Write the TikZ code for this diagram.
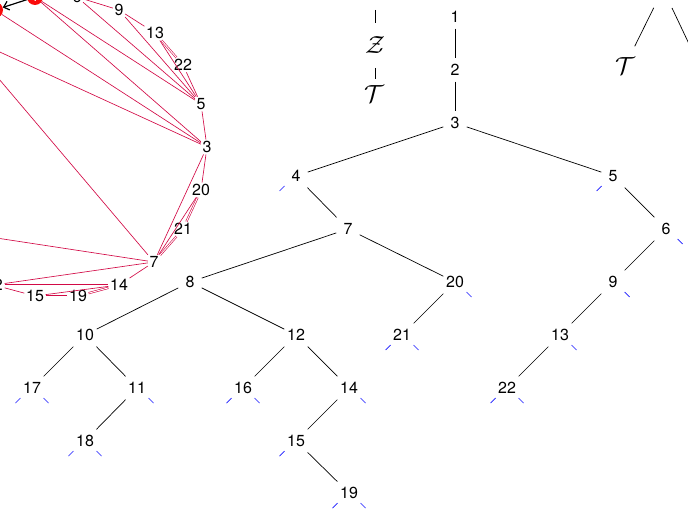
\RequirePackage{fix-cm}
\documentclass[tikz,border=0pt]{standalone}
\usepackage{fontspec}
\setmainfont{TeX Gyre Heros}
\usetikzlibrary{arrows.meta}
\definecolor{edgered}{RGB}{210,10,70}
\definecolor{stubblue}{RGB}{20,20,255}
\definecolor{dotred}{RGB}{250,10,10}
\newcommand\stubL[1]{\draw[stubline] (#1.center) ++(-11.5,10) -- ++(-5,5);}
\newcommand\stubR[1]{\draw[stubline] (#1.center) ++(11.5,10) -- ++(5,5);}
\newcommand\bigcal[1]{\scalebox{1.18}{$\mathcal{#1}$}}
\begin{document}
\begin{tikzpicture}[x=1pt,y=-1pt,
  tn/.style={rectangle, minimum width=23pt, minimum height=23pt, inner sep=0pt, font=\fontsize{16}{19}\selectfont},
  rn/.style={rectangle, inner sep=1.5pt, font=\fontsize{16}{19}\selectfont},
  cal/.style={inner sep=0pt, font=\fontsize{21}{25}\selectfont},
  tedge/.style={draw=black, line width=0.7pt},
  stubline/.style={draw=stubblue, line width=0.7pt},
  redge/.style={draw=edgered, line width=0.65pt},
  redge2/.style={draw=edgered, line width=0.6pt, double=white, double distance=0.9pt},
  reddot/.style={circle, fill=dotred, minimum size=16pt, inner sep=0pt, text=white, font=\fontsize{14}{16}\selectfont}
]
\useasboundingbox (0,0) rectangle (688,516);
\clip (0,0) rectangle (688,516);

% ---------------- tree ----------------
\node[tn] (t1) at (455,17) {1};
\node[tn] (t2) at (455,70) {2};
\node[tn] (t3) at (455,123) {3};
\node[tn] (t4) at (296,176) {4};
\node[tn] (t5) at (613,176) {5};
\node[tn] (t7) at (348,229) {7};
\node[tn] (t6) at (666,229) {6};
\node[tn] (t8) at (190,282) {8};
\node[tn] (t20) at (455,282) {20};
\node[tn] (t9) at (613,282) {9};
\node[tn] (t10) at (85,335) {10};
\node[tn] (t12) at (296,335) {12};
\node[tn] (t21) at (402,335) {21};
\node[tn] (t13) at (560,335) {13};
\node[tn] (t17) at (32,388) {17};
\node[tn] (t11) at (137,388) {11};
\node[tn] (t16) at (243,388) {16};
\node[tn] (t14) at (349,388) {14};
\node[tn] (t22) at (507,388) {22};
\node[tn] (t18) at (85,441) {18};
\node[tn] (t15) at (296,441) {15};
\node[tn] (t19) at (349,493) {19};

\foreach \a/\b in {t1/t2,t2/t3,t3/t4,t3/t5,t4/t7,t5/t6,t7/t8,t7/t20,t6/t9,
  t8/t10,t8/t12,t20/t21,t9/t13,t10/t17,t10/t11,t12/t16,t12/t14,t13/t22,
  t11/t18,t14/t15,t15/t19}
  \draw[tedge] (\a) -- (\b);

\stubL{t4} \stubL{t5} \stubR{t6} \stubR{t9} \stubR{t13}
\stubL{t22} \stubR{t22} \stubR{t20} \stubL{t21} \stubR{t21}
\stubL{t17} \stubR{t17} \stubR{t11} \stubL{t18} \stubR{t18}
\stubL{t16} \stubR{t16} \stubR{t14} \stubL{t15} \stubL{t19} \stubR{t19}

% ---------------- Z / T chain ----------------
\coordinate (ztop) at (375,-20);
\node[cal] (zZ) at (375,45) {\bigcal{Z}};
\node[cal] (zT) at (374,94) {\bigcal{T}};
\draw[tedge, shorten <=30pt, shorten >=22pt] (ztop) -- (zZ.center);
\draw[tedge, shorten <=23pt, shorten >=15pt] (zZ.center) -- (zZ.center |- zT.center);

% ---------------- top right T ----------------
\coordinate (tp) at (663,-11);
\coordinate (tr) at (699,65);
\node[cal] (T2) at (625,66) {\bigcal{T}};
\draw[tedge, shorten <=21pt, shorten >=22pt] (tp) -- (T2.center);
\draw[tedge, shorten <=21pt, shorten >=22pt] (tp) -- (tr);

% ---------------- circular graph ----------------
\node[rn] (c6) at (77,-3) {6};
\node[rn] (c9) at (119,10) {9};
\node[rn] (c13) at (155,33) {13};
\node[rn] (c22) at (183,65) {22};
\node[rn] (c5) at (201,104) {5};
\node[rn] (c3) at (207,147) {3};
\node[rn] (c20) at (201,190) {20};
\node[rn] (c21) at (183,229) {21};
\node[rn] (c7) at (154,262) {7};
\node[rn] (c14) at (119,285) {14};
\node[rn] (c19) at (78,296) {19};
\node[rn] (c15) at (35,296) {15};
\node[rn] (c12) at (-6,285) {12};
\node[reddot] (rA) at (35,-3) {1};
\node[reddot] (rB) at (-5,10) {};
\coordinate (s1) at (-60,24.6);
\coordinate (s2) at (-40,33);
\coordinate (s3) at (-60,229.4);

\draw[redge] (c6) -- (c9);
\draw[redge] (c9) -- (c13);
\draw[redge2] (c13) -- (c22);
\draw[redge] (c22) -- (c5);
\draw[redge] (c5) -- (c3);
\draw[redge] (c3) -- (c20);
\draw[redge2] (c20) -- (c21);
\draw[redge2] (c21) -- (c7);
\draw[redge] (c7) -- (c14);
\draw[redge2] (c14) -- (c19);
\draw[redge2, line width=0.8pt] (c19) -- (c15);
\draw[redge] (c15) -- (c12);
\draw[redge2] (c12) -- (c14);
\draw[redge] (c15) -- (c14);
\draw[redge] (c12) -- (c7);
\draw[redge] (c6) -- (c5);
\draw[redge] (c9) -- (c5);
\draw[redge] (c13) -- (c5);
\draw[redge] (rA) -- (c5);
\draw[redge] (rA) -- (c3);
\draw[redge] (rB) -- (c3);
\draw[redge] (s1) -- (c3);
\draw[redge] (s2) -- (c7);
\draw[redge] (s3) -- (c7);
\draw[redge] (c3) -- (c7);
\draw[redge] (c20) -- (c7);

\draw[line width=1.2pt, -{Straight Barb[length=5pt,width=9pt]}] (rA) -- (rB);
\end{tikzpicture}
\end{document}
